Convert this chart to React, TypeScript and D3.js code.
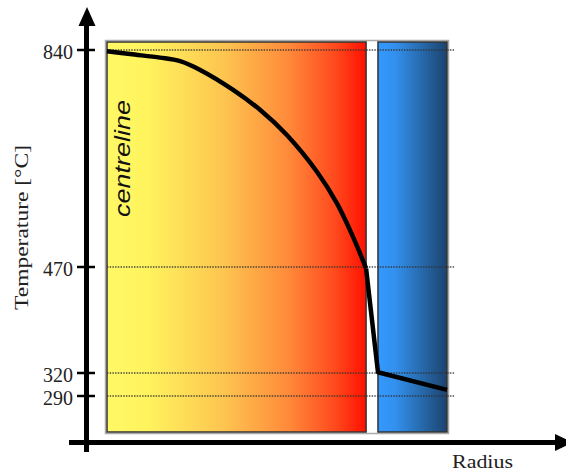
import React, { useEffect, useRef } from 'react';
import * as d3 from 'd3';

// temperature profile across the fuel pin (radius normalised to cladding outer radius)
const fuelRadius = [0, 0.068, 0.156, 0.215, 0.274, 0.371, 0.45, 0.529, 0.618, 0.676, 0.724, 0.762];
const fuelTemp = [838, 833, 827, 821, 806, 772, 738, 695, 632, 579, 521, 468];
const outerRadius = [0.762, 0.797, 1.0];
const outerTemp = [468, 321, 298];

const tickTemps = [840, 470, 320, 290];

const regions = [
  { name: 'fuel', r0: 0, r1: 0.762 },
  { name: 'gap', r0: 0.762, r1: 0.797 },
  { name: 'cladding', r0: 0.797, r1: 1.0 },
];

const W = 566;
const H = 473;
const serif = "'Liberation Serif', 'Times New Roman', serif";

const App: React.FC = () => {
  const svgRef = useRef<SVGSVGElement>(null);

  useEffect(() => {
    if (!svgRef.current) return;
    const svg = d3.select(svgRef.current);
    svg.selectAll('*').remove();

    const x = d3.scaleLinear().domain([0, 1]).range([107, 447]);
    // schematic, not to scale: piecewise temperature axis
    const y = d3.scaleLinear().domain([290, 320, 470, 840]).range([396, 373, 267, 50]);
    const top = 42;
    const bottom = 432;

    const defs = svg.append('defs');
    const fuelGrad = defs.append('linearGradient').attr('id', 'fuelGrad');
    [
      ['0%', '#fff966'],
      ['15%', '#fff45e'],
      ['45%', '#fdc550'],
      ['70%', '#ff8a3a'],
      ['88%', '#ff4a1e'],
      ['100%', '#ff1000'],
    ].forEach(([o, c]) => fuelGrad.append('stop').attr('offset', o).attr('stop-color', c));
    const cladGrad = defs.append('linearGradient').attr('id', 'cladGrad');
    [
      ['0%', '#3399ff'],
      ['25%', '#3390ee'],
      ['65%', '#2668a8'],
      ['100%', '#1c4370'],
    ].forEach(([o, c]) => cladGrad.append('stop').attr('offset', o).attr('stop-color', c));

    // outer frame
    svg.append('rect')
      .attr('x', x(0) - 1.5).attr('y', top - 1.5)
      .attr('width', x(1) - x(0) + 3).attr('height', bottom - top + 3)
      .attr('fill', '#fff').attr('stroke', '#aaa').attr('stroke-width', 1.5);

    regions.filter(r => r.name !== 'gap').forEach(r => {
      svg.append('rect')
        .attr('x', x(r.r0)).attr('y', top)
        .attr('width', x(r.r1) - x(r.r0)).attr('height', bottom - top)
        .attr('fill', r.name === 'fuel' ? 'url(#fuelGrad)' : 'url(#cladGrad)')
        .attr('stroke', '#333').attr('stroke-width', 1.5);
    });

    // dotted reference lines
    svg.selectAll('.ref')
      .data(tickTemps)
      .enter()
      .append('line')
      .attr('x1', x(0)).attr('x2', 455)
      .attr('y1', d => y(d)).attr('y2', d => y(d))
      .attr('stroke', '#333').attr('stroke-width', 1.3)
      .attr('stroke-dasharray', '1.5 1.2').attr('opacity', 0.85);

    // temperature curve
    const fuelLine = d3.line<number>()
      .x((_, i) => x(fuelRadius[i]))
      .y(d => y(d))
      .curve(d3.curveCatmullRom.alpha(0.5));
    svg.append('path')
      .attr('d', fuelLine(fuelTemp))
      .attr('fill', 'none').attr('stroke', '#000').attr('stroke-width', 4.5)
      .attr('stroke-linejoin', 'round');
    const outerLine = d3.line<number>()
      .x((_, i) => x(outerRadius[i]))
      .y(d => y(d));
    svg.append('path')
      .attr('d', outerLine(outerTemp))
      .attr('fill', 'none').attr('stroke', '#000').attr('stroke-width', 4.5)
      .attr('stroke-linejoin', 'round');

    // axes
    svg.append('line').attr('x1', 86.5).attr('x2', 86.5).attr('y1', 20).attr('y2', 452)
      .attr('stroke', '#000').attr('stroke-width', 5);
    svg.append('path').attr('d', 'M87,7 L95.5,26 L78.5,26 Z').attr('fill', '#000');
    svg.append('line').attr('x1', 69).attr('x2', 560).attr('y1', 442.5).attr('y2', 442.5)
      .attr('stroke', '#000').attr('stroke-width', 5);
    svg.append('path').attr('d', 'M573,442.5 L555,434 L555,451 Z').attr('fill', '#000');

    svg.selectAll('.tick')
      .data(tickTemps)
      .enter()
      .append('line')
      .attr('x1', 77).attr('x2', 95)
      .attr('y1', d => y(d)).attr('y2', d => y(d))
      .attr('stroke', '#000').attr('stroke-width', 2.5);

    svg.selectAll('.tick-label')
      .data(tickTemps)
      .enter()
      .append('text')
      .attr('x', 73)
      .attr('y', d => y(d) + 2)
      .attr('dy', '0.35em')
      .attr('text-anchor', 'end')
      .attr('font-family', serif)
      .attr('font-size', 20)
      .attr('fill', '#222')
      .text(d => d);

    svg.append('text')
      .attr('transform', 'translate(28,227.5) rotate(-90)')
      .attr('text-anchor', 'middle')
      .attr('font-family', serif)
      .attr('font-size', 19)
      .attr('textLength', 165)
      .attr('lengthAdjust', 'spacingAndGlyphs')
      .attr('fill', '#222')
      .text('Temperature [°C]');

    svg.append('text')
      .attr('x', 452).attr('y', 468)
      .attr('font-family', serif)
      .attr('font-size', 19)
      .attr('textLength', 61)
      .attr('lengthAdjust', 'spacingAndGlyphs')
      .attr('fill', '#222')
      .text('Radius');

    svg.append('text')
      .attr('transform', 'translate(130,158.5) rotate(-90)')
      .attr('text-anchor', 'middle')
      .attr('font-family', "'Liberation Sans', Arial, sans-serif")
      .attr('font-style', 'italic')
      .attr('font-size', 22)
      .attr('textLength', 117)
      .attr('lengthAdjust', 'spacingAndGlyphs')
      .attr('fill', '#111')
      .text('centreline');
  }, []);

  return (
    <svg
      ref={svgRef}
      width={W}
      height={H}
      style={{ position: 'absolute', left: 0, top: 0, background: '#fff' }}
    />
  );
};

export default App;
